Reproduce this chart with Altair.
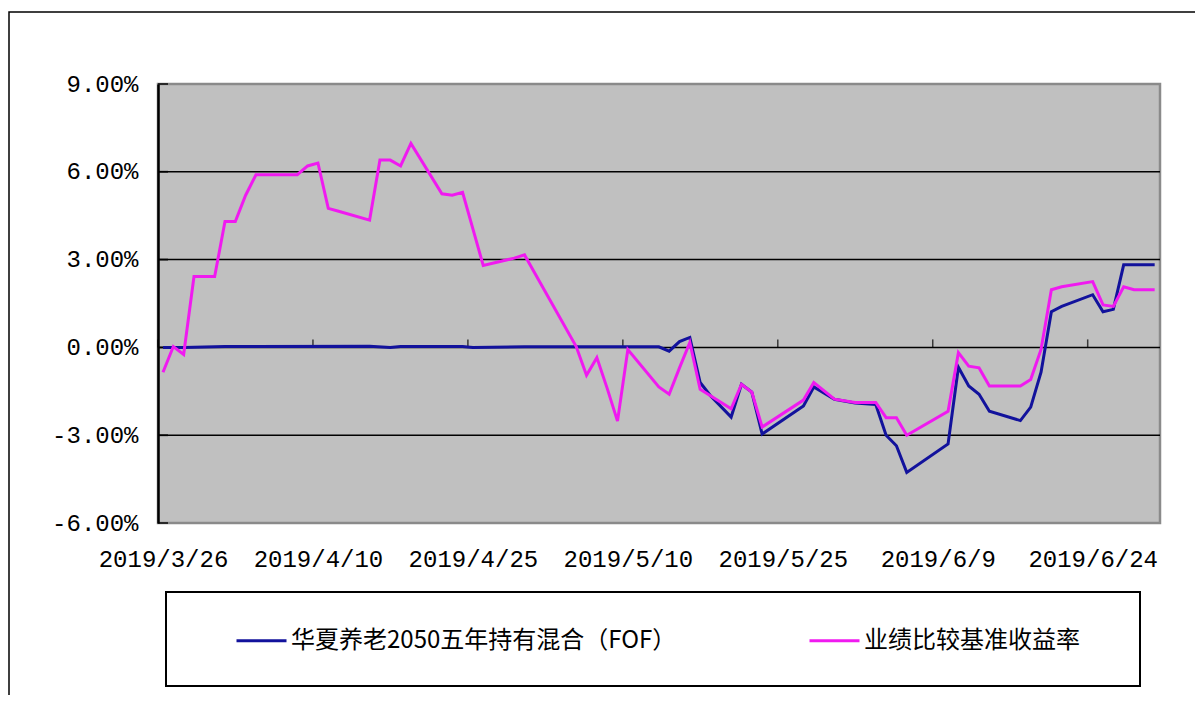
import altair as alt
import pandas as pd

FUND_NAME = "华夏养老2050五年持有混合（FOF）"
BENCH_NAME = "业绩比较基准收益率"

fund_dates = ["2019-03-26", "2019-03-28", "2019-04-01", "2019-04-15", "2019-04-17", "2019-04-18",
              "2019-04-24", "2019-04-25", "2019-04-30", "2019-05-13", "2019-05-14", "2019-05-15",
              "2019-05-16", "2019-05-17", "2019-05-18", "2019-05-20", "2019-05-21", "2019-05-22",
              "2019-05-23", "2019-05-27", "2019-05-28", "2019-05-30", "2019-06-01", "2019-06-03",
              "2019-06-04", "2019-06-05", "2019-06-06", "2019-06-10", "2019-06-11", "2019-06-12",
              "2019-06-13", "2019-06-14", "2019-06-17", "2019-06-18", "2019-06-19", "2019-06-20",
              "2019-06-21", "2019-06-24", "2019-06-25", "2019-06-26", "2019-06-27", "2019-06-30"]
fund_values = [0.00, 0.00, 0.03, 0.04, 0.00, 0.03,
               0.03, 0.00, 0.02, 0.02, -0.13, 0.20,
               0.34, -1.20, -1.65, -2.38, -1.26, -1.53,
               -2.96, -2.00, -1.35, -1.77, -1.90, -1.95,
               -3.00, -3.36, -4.27, -3.30, -0.68, -1.32,
               -1.60, -2.18, -2.50, -2.04, -0.85, 1.22,
               1.40, 1.80, 1.22, 1.30, 2.82, 2.82]

bench_dates = ["2019-03-26", "2019-03-27", "2019-03-28", "2019-03-29", "2019-03-31", "2019-04-01",
               "2019-04-02", "2019-04-03", "2019-04-04", "2019-04-08", "2019-04-09", "2019-04-10",
               "2019-04-11", "2019-04-12", "2019-04-15", "2019-04-16", "2019-04-17", "2019-04-18",
               "2019-04-19", "2019-04-22", "2019-04-23", "2019-04-24", "2019-04-25", "2019-04-26",
               "2019-04-29", "2019-04-30", "2019-05-05", "2019-05-06", "2019-05-07", "2019-05-08",
               "2019-05-09", "2019-05-10", "2019-05-13", "2019-05-14", "2019-05-15", "2019-05-16",
               "2019-05-17", "2019-05-18", "2019-05-20", "2019-05-21", "2019-05-22", "2019-05-23",
               "2019-05-27", "2019-05-28", "2019-05-30", "2019-06-01", "2019-06-03", "2019-06-04",
               "2019-06-05", "2019-06-06", "2019-06-10", "2019-06-11", "2019-06-12", "2019-06-13",
               "2019-06-14", "2019-06-17", "2019-06-18", "2019-06-19", "2019-06-20", "2019-06-21",
               "2019-06-24", "2019-06-25", "2019-06-26", "2019-06-27", "2019-06-28", "2019-06-30"]
bench_values = [-0.85, 0.03, -0.24, 2.42, 2.42, 4.30,
                4.30, 5.20, 5.90, 5.90, 6.20, 6.30,
                4.75, 4.65, 4.35, 6.40, 6.40, 6.20,
                6.97, 5.25, 5.20, 5.30, 4.05, 2.80,
                3.05, 3.16, 0.03, -0.95, -0.35, -1.40,
                -2.52, -0.07, -1.35, -1.60, -0.70, 0.17,
                -1.43, -1.65, -2.10, -1.26, -1.53, -2.72,
                -1.80, -1.20, -1.77, -1.88, -1.88, -2.40,
                -2.40, -3.00, -2.18, -0.18, -0.64, -0.70,
                -1.32, -1.32, -1.10, -0.07, 1.97, 2.07,
                2.25, 1.45, 1.40, 2.07, 1.97, 1.97]

y_ticks = [-0.06, -0.03, 0.0, 0.03, 0.06, 0.09]
grid_values = [0.06, 0.03, 0.0, -0.03]
x_tick_dates = ["2019-03-26", "2019-04-10", "2019-04-25", "2019-05-10",
                "2019-05-25", "2019-06-09", "2019-06-24"]

BLUE = "#12129c"
PINK = "#f01af0"

df = pd.concat([
    pd.DataFrame({"date": fund_dates, "value": [v / 100 for v in fund_values], "series": FUND_NAME}),
    pd.DataFrame({"date": bench_dates, "value": [v / 100 for v in bench_values], "series": BENCH_NAME}),
], ignore_index=True)


def dt(s):
    y, m, d = (int(p) for p in s.split("-"))
    return alt.DateTime(year=y, month=m, date=d, utc=True)


x_scale = alt.Scale(type="utc", domain=[dt("2019-03-26"), dt("2019-07-01")])
y_scale = alt.Scale(domain=[-0.06, 0.09], nice=False, zero=False)

color = alt.Color(
    "series:N",
    scale=alt.Scale(domain=[FUND_NAME, BENCH_NAME], range=[BLUE, PINK]),
    legend=alt.Legend(
        title=None,
        orient="none",
        direction="horizontal",
        legendX=8,
        legendY=508,
        padding=22,
        symbolOffset=47,
        symbolType="stroke",
        symbolSize=2500,
        symbolStrokeWidth=3,
        labelOffset=3,
        labelLimit=700,
        columnPadding=84,
        labelFont="Noto Sans CJK SC",
        labelFontSize=24,
        labelColor="#000000",
    ),
)

base = alt.Chart(df)

x_enc = alt.X(
    "date:T",
    scale=x_scale,
    title=None,
    axis=alt.Axis(
        values=[dt(s) for s in x_tick_dates],
        labelExpr="utcFormat(datum.value, '%Y/%-m/%-d')",
        domain=False,
        ticks=False,
        grid=False,
        labelOffset=5,
        labelPadding=24,
        labelFont="Liberation Mono",
        labelFontSize=24,
        labelColor="#000000",
        labelOverlap=False,
        labelFlush=False,
    ),
)
y_enc = alt.Y(
    "value:Q",
    scale=y_scale,
    title=None,
    axis=alt.Axis(
        values=y_ticks,
        labelExpr="replace(format(datum.value, '.2%'), '\u2212', '-')",
        domain=True,
        domainColor="#000000",
        domainWidth=2.5,
        ticks=False,
        grid=False,
        labelPadding=20,
        labelFont="Liberation Mono",
        labelFontSize=24,
        labelColor="#000000",
    ),
)

grid = alt.Chart(pd.DataFrame({"g": grid_values})).mark_rule(
    color="#000000", strokeWidth=1.5
).encode(y=alt.Y("g:Q", scale=y_scale))

ytick = alt.Chart(pd.DataFrame({"g": y_ticks})).mark_tick(
    orient="horizontal", color="#000000", size=10, thickness=2, xOffset=5
).encode(y=alt.Y("g:Q", scale=y_scale), x=alt.value(0))

xtick = alt.Chart(pd.DataFrame({"d": x_tick_dates, "z": [0.0] * len(x_tick_dates)})).mark_tick(
    orient="vertical", color="#000000", size=8, thickness=1.5, yOffset=-4
).encode(x=alt.X("d:T", scale=x_scale), y=alt.Y("z:Q", scale=y_scale))

fund_line = base.transform_filter(alt.datum.series == FUND_NAME).mark_line(
    strokeWidth=3, xOffset=5
).encode(x=x_enc, y=y_enc, color=color)

bench_line = base.transform_filter(alt.datum.series == BENCH_NAME).mark_line(
    strokeWidth=3, xOffset=5
).encode(x=x_enc, y=y_enc, color=color)

one = pd.DataFrame({"a": [0]})

frame = alt.Chart(one).mark_rect(
    fillOpacity=0, stroke="#000000", strokeWidth=1.5
).encode(x=alt.value(-149), y=alt.value(-72), x2=alt.value(1200), y2=alt.value(800))

legend_box = alt.Chart(one).mark_rect(
    fill="#ffffff", stroke="#000000", strokeWidth=2
).encode(x=alt.value(8), y=alt.value(508), x2=alt.value(982), y2=alt.value(602))

chart = alt.layer(frame, legend_box, grid, ytick, xtick, fund_line, bench_line).properties(
    width=1002,
    height=439,
    padding={"left": 150, "top": 76, "right": 35, "bottom": 172},
    autosize=alt.AutoSizeParams(type="none"),
    background="#ffffff",
).configure_view(
    fill="#c0c0c0", stroke="#8a8a8a", strokeWidth=2.5
)

chart.save("out.html", embed_options={"renderer": "svg", "actions": False})
